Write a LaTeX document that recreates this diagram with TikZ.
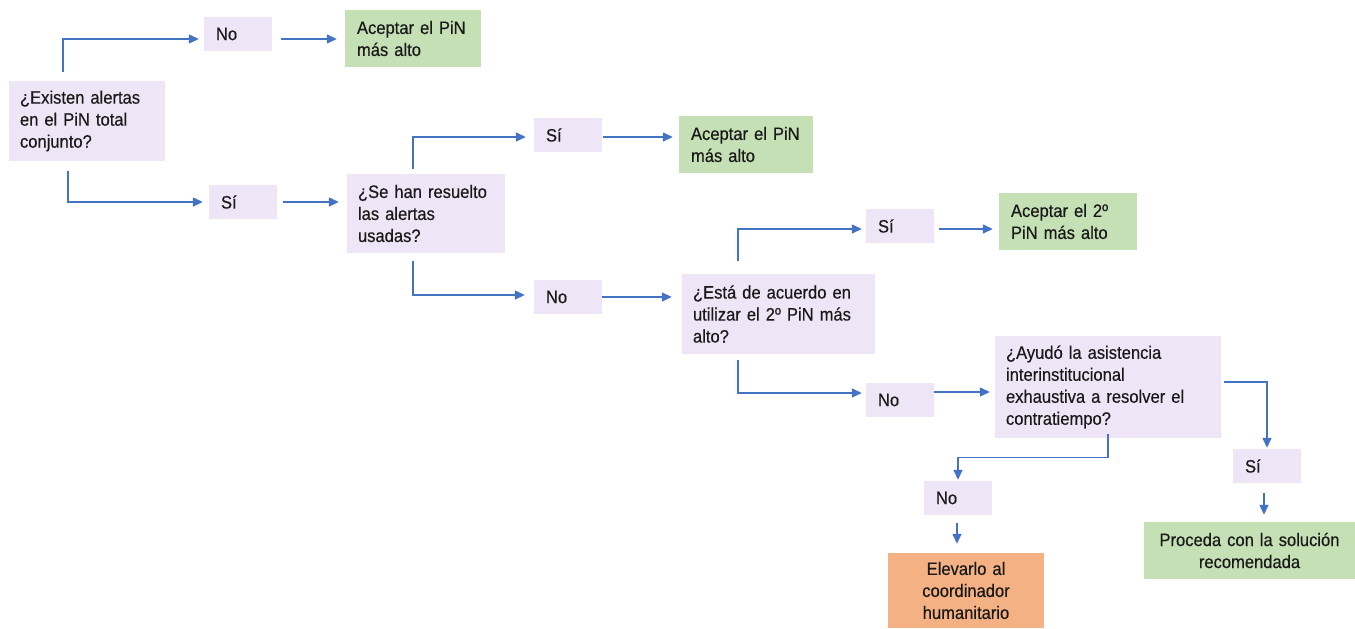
\documentclass[tikz,border=0pt]{standalone}
\usepackage{fontspec}
\setmainfont{Liberation Sans}[FakeStretch=0.92,FakeBold=0.35]
\usetikzlibrary{arrows.meta}
\definecolor{lav}{HTML}{EEE6F6}
\definecolor{grn}{HTML}{C5E0B4}
\definecolor{org}{HTML}{F4B183}
\definecolor{blu}{HTML}{4472C4}
\begin{document}
\begin{tikzpicture}[x=1pt,y=-1pt,
  base/.style={rectangle, inner ysep=0pt, font=\fontsize{18}{22}\selectfont, anchor=center, text=black!90},
  qbox/.style 2 args={base, fill=lav, inner xsep=11pt, text width=#1, minimum height=#2, align=left},
  gbox/.style 2 args={base, fill=grn, inner xsep=12pt, text width=#1, minimum height=#2, align=left},
  cbox/.style n args={3}{base, fill=#3, inner xsep=12pt, text width=#1, minimum height=#2, align=center},
  ans/.style={base, fill=lav, inner xsep=12pt, text width=44pt, minimum height=34pt, align=left},
  arr/.style={draw=blu, line width=1.4pt, -{Triangle[length=10pt,width=9pt]}}]
\useasboundingbox (0,0) rectangle (1355,629);
\fill[white] (0,0) rectangle (1355,629);

% nodes
\node[qbox={134pt}{80pt}] (q1) at (87,121) {¿Existen alertas\\en el PiN total\\conjunto?};
\node[ans] (no1) at (238,34) {No};
\node[gbox={112pt}{57pt}] (g1) at (413,38.5) {Aceptar el PiN\\más alto};
\node[ans] (si1) at (243,202) {Sí};
\node[qbox={136pt}{79pt}] (q2) at (426,213.5) {¿Se han resuelto\\las alertas\\usadas?};
\node[ans] (si2) at (568,135) {Sí};
\node[gbox={110pt}{57pt}] (g2) at (746,144.5) {Aceptar el PiN\\más alto};
\node[ans] (no2) at (568,297) {No};
\node[qbox={171pt}{80pt}] (q3) at (778.5,314) {¿Está de acuerdo en\\utilizar el 2º PiN más\\alto?};
\node[ans] (si3) at (900,226) {Sí};
\node[gbox={114pt}{57pt}] (g3) at (1068,221.5) {Aceptar el 2º\\PiN más alto};
\node[ans] (no3) at (900,400) {No};
\node[qbox={204pt}{102pt}] (q4) at (1108,387) {¿Ayudó la asistencia\\interinstitucional\\exhaustiva a resolver el\\contratiempo?};
\node[ans] (si4) at (1267,466) {Sí};
\node[cbox={187pt}{57pt}{grn}] (g4) at (1249.5,550.5) {Proceda con la solución\\recomendada};
\node[ans] (no4) at (958,498) {No};
\node[cbox={132pt}{75pt}{org}] (o1) at (966,590.5) {Elevarlo al\\coordinador\\humanitario};

% connectors
\draw[arr] ([xshift=-24pt,yshift=9pt]q1.north) |- ([xshift=-5pt,yshift=-5pt]no1.west);
\draw[arr] ([xshift=9pt,yshift=-5pt]no1.east) -- ([xshift=-8pt,yshift=-5pt]no1.east -| g1.west);
\draw[arr] ([xshift=-19pt,yshift=-10pt]q1.south) |- ([xshift=-6pt]si1.west);
\draw[arr] ([xshift=6pt]si1.east) -- ([xshift=-8pt]si1.east -| q2.west);
\draw[arr] ([xshift=-13pt,yshift=5pt]q2.north) |- ([xshift=-8pt,yshift=-2pt]si2.west);
\draw[arr] ([xshift=1pt,yshift=-2pt]si2.east) -- ([xshift=-6pt,yshift=-2pt]si2.east -| g2.west);
\draw[arr] ([xshift=-13pt,yshift=-8pt]q2.south) |- ([xshift=-9pt,yshift=2pt]no2.west);
\draw[arr] (no2.east) -- ([xshift=-10pt]no2.east -| q3.west);
\draw[arr] ([xshift=-40.5pt,yshift=13pt]q3.north) |- ([xshift=-4pt,yshift=-3pt]si3.west);
\draw[arr] ([xshift=5pt,yshift=-3pt]si3.east) -- ([xshift=-6pt,yshift=-3pt]si3.east -| g3.west);
\draw[arr] ([xshift=-40.5pt,yshift=-6pt]q3.south) |- ([xshift=-4pt,yshift=7pt]no3.west);
\draw[arr] ([yshift=8pt]no3.east) -- ([xshift=-5pt,yshift=8pt]no3.east -| q4.west);
\draw[arr] ([xshift=3pt,yshift=5pt]q4.east) -| ([yshift=1pt]si4.north);
\draw[arr] ([xshift=-3pt,yshift=-10pt]si4.south) -- ([xshift=-3pt,yshift=7pt]si4.south |- g4.north);
\draw[arr] ([yshift=4pt]q4.south) -- ++(0,23) -| ([yshift=1pt]no4.north);
\draw[arr] ([xshift=-1pt,yshift=-8pt]no4.south) -- ([xshift=-1pt,yshift=9pt]no4.south |- o1.north);
\end{tikzpicture}
\end{document}
